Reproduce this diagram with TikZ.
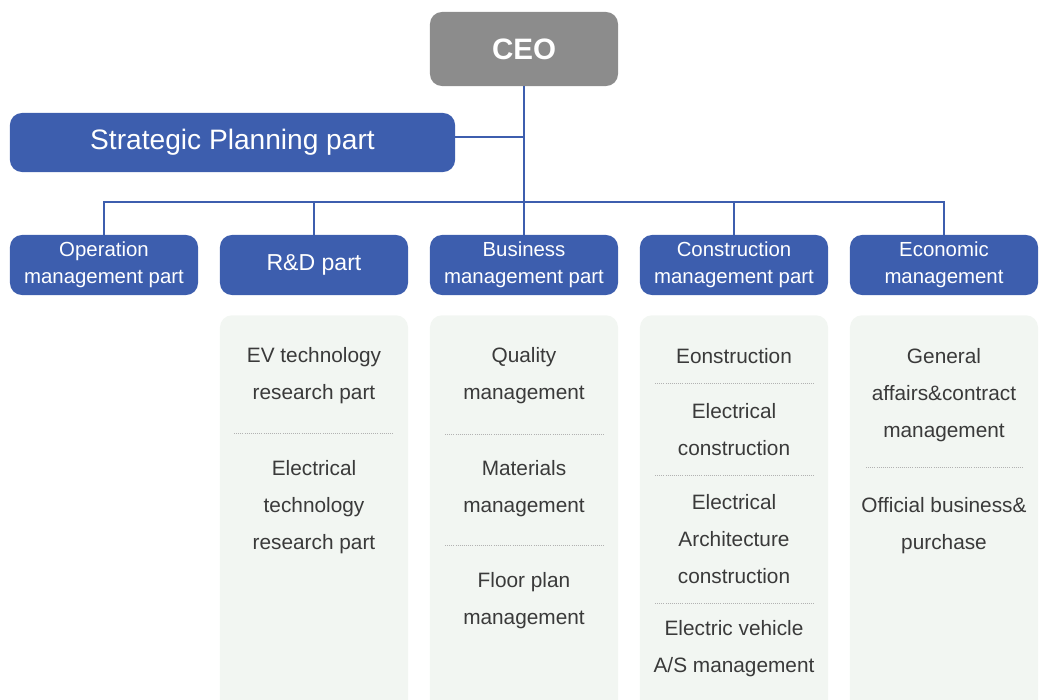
\documentclass[tikz,border=0pt]{standalone}
\usepackage{fontspec}
\setmainfont{Liberation Sans}
\usepackage{tikz}
\usetikzlibrary{positioning}
\usepackage{xcolor}
\definecolor{partblue}{HTML}{3D5EAE}
\definecolor{ceogray}{HTML}{8C8C8C}
\definecolor{panelfill}{HTML}{F2F6F2}
\definecolor{itemtext}{HTML}{3A3A3A}

\tikzset{
  ceobox/.style={fill=ceogray, rounded corners=.3cm, minimum width=4.7cm, minimum height=1.85cm,
    text=white, font=\fontsize{21pt}{25pt}\selectfont\bfseries},
  partbox/.style={fill=partblue, rounded corners=.3cm, minimum width=4.7cm, minimum height=1.5cm,
    text=white, align=center, font=\fontsize{14.5pt}{19.2pt}\selectfont, inner sep=0pt},
  panel/.style={fill=panelfill, rounded corners=.3cm, minimum width=4.7cm, minimum height=10cm, anchor=north},
  item/.style={text=itemtext, align=center, font=\fontsize{14.8pt}{26.3pt}\selectfont, inner sep=0pt},
  link/.style={draw=partblue, line width=1.1pt},
  sep/.style={draw=gray!60, densely dotted, line width=.5pt}
}

\begin{document}
\begin{tikzpicture}[x=0.025cm, y=-0.025cm]
       \clip (0,0) rectangle (1040,699);

       \node[ceobox] (ceo) at (524, 49) {CEO};
       \node[partbox, minimum width=11.125cm, minimum height=1.475cm,
             font=\fontsize{20pt}{24pt}\selectfont] (plan) at (232.5, 142.5) {Strategic Planning part};
       \coordinate (bus) at (524, 202);

       \node[partbox] (op)   at (104, 265) {Operation\\management part};
       \node[partbox, font=\fontsize{16.4pt}{20pt}\selectfont] (rnd) at (314, 265) {R\&D part};
       \node[partbox] (biz)  at (524, 265) {Business\\management part};
       \node[partbox] (cons) at (734, 265) {Construction\\management part};
       \node[partbox] (econ) at (944, 265) {Economic\\management};

       \draw[link] (ceo.south) -- (bus);
       \draw[link] ([yshift=.14cm]plan.east) -- ([yshift=.14cm]plan.east -| ceo.south);
       \draw[link] (op.north) |- (bus) -| (econ.north);
       \draw[link] (rnd.north) -- (rnd.north |- bus);
       \draw[link] (biz.north) -- (bus);
       \draw[link] (cons.north) -- (cons.north |- bus);

       \node[panel] (rndlist)  at (314, 315) {};
       \node[panel] (bizlist)  at (524, 315) {};
       \node[panel] (conslist) at (734, 315) {};
       \node[panel] (econlist) at (944, 315) {};

       % R&D part
       \node[item] (ev)    at (314, 375.5) {EV technology\\research part};
       \node[item] (etech) at (314, 507)   {Electrical\\technology\\research part};
       \draw[sep] (234, 433) -- (394, 433);

       % Business management part
       \node[item] (quality) at (524, 375.5) {Quality\\management};
       \node[item] (material) at (524, 488.5) {Materials\\management};
       \node[item] (floor)   at (524, 600.5) {Floor plan\\management};
       \draw[sep] (445, 434) -- (604, 434);
       \draw[sep] (445, 545) -- (604, 545);

       % Construction management part
       \node[item] (constr) at (734, 356)   {Eonstruction};
       \node[item] (econstr) at (734, 429.5) {Electrical\\construction};
       \node[item] (arch)   at (734, 539)   {Electrical\\Architecture\\construction};
       \node[item] (asman)  at (734, 648.5) {Electric vehicle\\A/S management};
       \draw[sep] (655, 383) -- (814, 383);
       \draw[sep] (655, 475) -- (814, 475);
       \draw[sep] (655, 603) -- (814, 603);

       % Economic management
       \node[item] (general) at (944, 395) {General\\affairs\&contract\\management};
       \node[item] (purchase) at (944, 525.5) {Official business\&\\purchase};
       \draw[sep] (866, 467) -- (1024, 467);
\end{tikzpicture}
\end{document}
